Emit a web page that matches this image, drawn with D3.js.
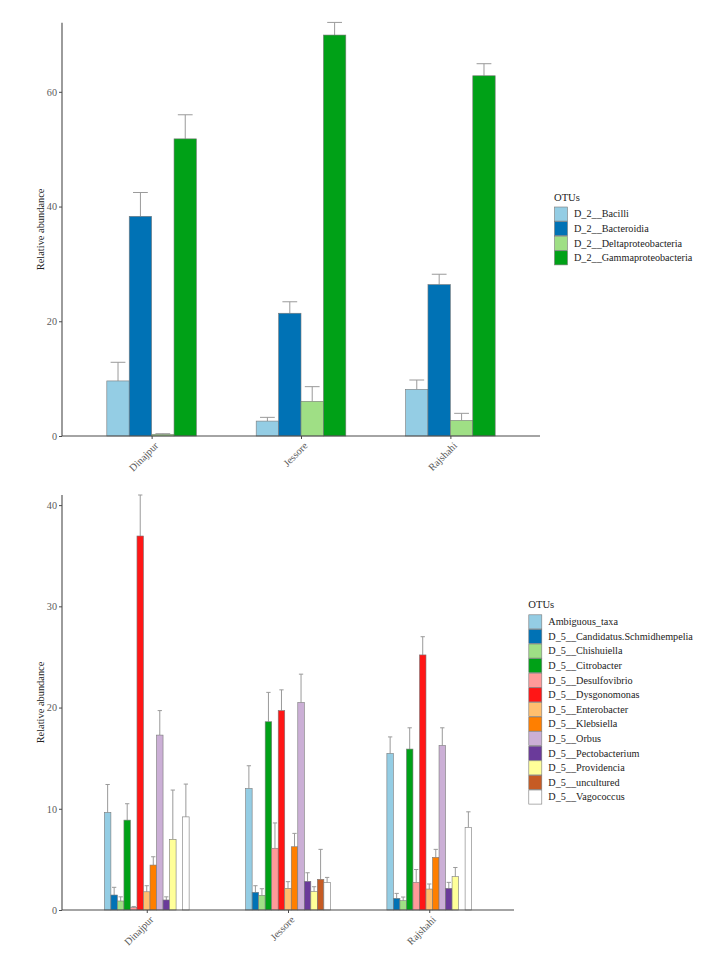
<!DOCTYPE html>
<html><head><meta charset="utf-8">
<script src="https://cdn.jsdelivr.net/npm/d3@7"></script>
<style>
body{margin:0;background:#fff;}
svg, svg text{font-family:"Liberation Serif","Times New Roman",Times,serif;}
</style></head>
<body><svg id="c" width="711" height="953"></svg>
<script>
const sites = ["Dinajpur", "Jessore", "Rajshahi"];

// Top panel: class level
const classNames = ["D_2__Bacilli", "D_2__Bacteroidia", "D_2__Deltaproteobacteria", "D_2__Gammaproteobacteria"];
const classColors = ["#94CDE4", "#0072B5", "#9FDF85", "#00A117"];
const classMean = [
  [9.6, 38.3, 0.3, 51.8],
  [2.6, 21.4, 6.05, 69.9],
  [8.13, 26.4, 2.73, 62.8]
];
const classSd = [
  [3.25, 4.15, 0.1, 4.2],
  [0.65, 2.0, 2.55, 2.2],
  [1.63, 1.8, 1.22, 2.1]
];
const classTicks = [0, 20, 40, 60];

// Bottom panel: genus level
const genusNames = ["Ambiguous_taxa", "D_5__Candidatus.Schmidhempelia", "D_5__Chishuiella", "D_5__Citrobacter",
  "D_5__Desulfovibrio", "D_5__Dysgonomonas", "D_5__Enterobacter", "D_5__Klebsiella", "D_5__Orbus",
  "D_5__Pectobacterium", "D_5__Providencia", "D_5__uncultured", "D_5__Vagococcus"];
const genusColors = ["#94CDE4", "#0072B5", "#9FDF85", "#00A117", "#FF9A99", "#FF1616", "#FFBF6F",
  "#FF7F00", "#CBAFD6", "#6A3A9A", "#FFFF99", "#C65B24", "#FFFFFF"];
const genusMean = [
  [9.64, 1.48, 0.89, 8.88, 0.25, 36.95, 1.8, 4.44, 17.28, 0.99, 6.98, 0, 9.2],
  [12.0, 1.75, 1.45, 18.6, 6.1, 19.7, 2.14, 6.25, 20.5, 2.83, 1.81, 3.03, 2.7],
  [15.47, 1.15, 0.92, 15.9, 2.73, 25.2, 2.07, 5.2, 16.25, 2.14, 3.29, 0, 8.16]
];
const genusSd = [
  [2.76, 0.76, 0.41, 1.62, 0.1, 4.05, 0.6, 0.82, 2.42, 0.31, 4.87, 0, 3.24],
  [2.25, 0.65, 0.65, 2.9, 2.5, 2.05, 0.66, 1.32, 2.8, 0.85, 0.49, 2.96, 0.52],
  [1.63, 0.49, 0.36, 2.1, 1.27, 1.8, 0.5, 0.79, 1.75, 0.59, 0.91, 0, 1.54]
];
const genusTicks = [0, 10, 20, 30, 40];

const FONT = "Liberation Serif, Times New Roman, Times, serif";
const svg = d3.select("#c");

function panel(cfg) {
  const g = svg.append("g");
  const x = d3.scalePoint().domain(sites).range([cfg.x0, cfg.x1]).padding(0.6);
  const step = x.step();
  const inner = d3.scaleBand().domain(d3.range(cfg.names.length)).range([-0.3 * step, 0.3 * step]);
  const y = d3.scaleLinear().domain([0, cfg.ymax]).range([cfg.yb, cfg.yt]);
  const bw = inner.bandwidth();
  const capW = bw * 0.66;

  sites.forEach((s, si) => {
    const gg = g.append("g").attr("transform", `translate(${x(s)},0)`);
    const data = cfg.mean[si].map((v, i) => ({i, v, sd: cfg.sd[si][i]})).filter(d => d.v > 0);
    gg.selectAll("line.eb").data(data).join("line").attr("class", "eb")
      .attr("x1", d => inner(d.i) + bw / 2).attr("x2", d => inner(d.i) + bw / 2)
      .attr("y1", d => y(d.v)).attr("y2", d => y(d.v + d.sd))
      .attr("stroke", "#9a9a9a").attr("stroke-width", 1);
    gg.selectAll("line.cap").data(data).join("line").attr("class", "cap")
      .attr("x1", d => inner(d.i) + bw / 2 - capW / 2).attr("x2", d => inner(d.i) + bw / 2 + capW / 2)
      .attr("y1", d => y(d.v + d.sd)).attr("y2", d => y(d.v + d.sd))
      .attr("stroke", "#9a9a9a").attr("stroke-width", 1);
    gg.selectAll("rect").data(data).join("rect")
      .attr("x", d => inner(d.i)).attr("width", bw)
      .attr("y", d => y(d.v)).attr("height", d => y(0) - y(d.v))
      .attr("fill", d => cfg.colors[d.i]).attr("stroke", "#7a7a7a").attr("stroke-width", 0.6);
  });

  const ya = g.append("g").attr("transform", `translate(${cfg.x0},0)`)
    .call(d3.axisLeft(y).tickValues(cfg.ticks).tickSize(3).tickPadding(2).tickFormat(d3.format("d")))
    .attr("font-family", FONT);
  ya.select(".domain").attr("d", `M0,${cfg.yt}V${cfg.yb}`).attr("stroke", "#4a4a4a").attr("stroke-width", 1.1);
  ya.selectAll(".tick line").attr("stroke", "#4a4a4a");
  ya.selectAll(".tick text").attr("fill", "#5a5a5a").attr("font-size", 10.2).attr("font-family", FONT);

  const xa = g.append("g").attr("transform", `translate(0,${cfg.yb})`)
    .call(d3.axisBottom(x).tickSize(3).tickFormat(""));
  xa.select(".domain").attr("d", `M${cfg.x0},0H${cfg.x1}`).attr("stroke", "#4a4a4a").attr("stroke-width", 1.1);
  xa.selectAll(".tick line").attr("stroke", "#4a4a4a");
  g.append("g").selectAll("text").data(sites).join("text")
    .attr("transform", d => `translate(${x(d) + 3},${cfg.yb + 6}) rotate(-45)`)
    .attr("text-anchor", "end").attr("dy", "0.6em").attr("font-family", FONT)
    .attr("fill", "#5a5a5a").attr("font-size", 10.2).text(d => d);

  g.append("text")
    .attr("transform", `translate(${cfg.x0 - 18},${(cfg.yt + cfg.yb) / 2}) rotate(-90)`)
    .attr("text-anchor", "middle").attr("font-size", 10.4).attr("fill", "#222").attr("font-family", FONT)
    .text("Relative abundance");

  const lg = g.append("g").attr("transform", `translate(${cfg.lx},${cfg.ly})`);
  lg.append("text").attr("x", 0).attr("y", -6).attr("font-size", 10.6).attr("fill", "#222")
    .attr("font-family", FONT).text("OTUs");
  const kh = 14.6;
  const items = lg.selectAll("g").data(cfg.names).join("g")
    .attr("transform", (d, i) => `translate(0,${i * kh})`);
  items.append("rect").attr("x", 0.5).attr("y", 0.5).attr("width", 13).attr("height", kh - 0.5)
    .attr("fill", (d, i) => cfg.colors[i]).attr("stroke", "#7a7a7a").attr("stroke-width", 0.6);
  items.append("text").attr("x", cfg.ltx).attr("y", kh / 2).attr("dy", "0.35em")
    .attr("font-size", 10.2).attr("fill", "#222").attr("font-family", FONT).text(d => d);
}

panel({names: classNames, colors: classColors, mean: classMean, sd: classSd, ticks: classTicks,
  x0: 62, x1: 540, yt: 22.7, yb: 436, ymax: 72.05, lx: 554, ly: 206.5, ltx: 20});
panel({names: genusNames, colors: genusColors, mean: genusMean, sd: genusSd, ticks: genusTicks,
  x0: 62, x1: 514, yt: 495, yb: 910, ymax: 41.0, lx: 528.3, ly: 614.3, ltx: 20});
</script></body></html>
